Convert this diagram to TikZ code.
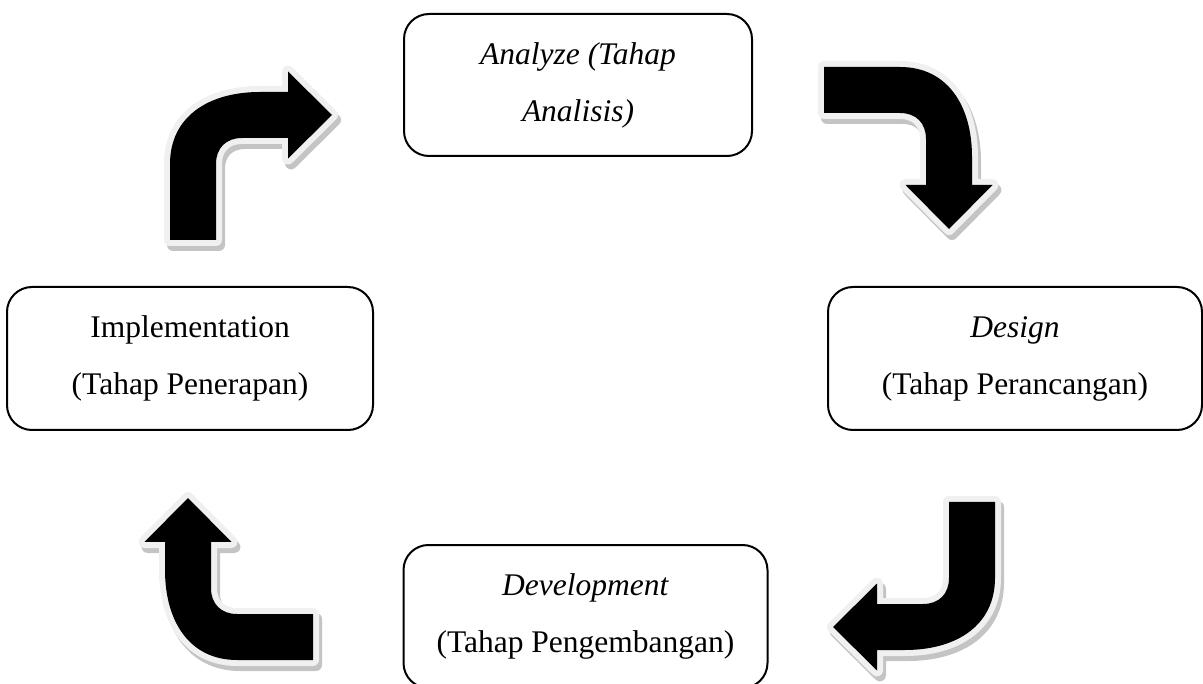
\documentclass[tikz,border=0pt]{standalone}
\usepackage{fontspec}
\setmainfont{Liberation Serif}
\usepackage{tikz}
\usetikzlibrary{shapes, positioning}
\definecolor{rimgray}{HTML}{F0F0F0}
\definecolor{shadegray}{HTML}{C4C4C4}
\tikzstyle{phase} = [rectangle, rounded corners=25pt, draw=black, line width=2pt, align=center, inner sep=0pt, font=\fontsize{31.5}{57}\selectfont]
\tikzstyle{bentshadow} = [fill=shadegray, draw=shadegray, line width=12pt, line join=round]
\tikzstyle{bentrim} = [draw=rimgray, line width=12pt, line join=round]
\tikzstyle{bentbody} = [fill=black]
\newcommand{\bentshape}{(0,148) -- (0,72) .. controls (0,25) and (38,0) .. (90,0) -- (118,0) -- (118,-20.5) -- (162,23) -- (118,66.5) -- (118,46) -- (72,46) .. controls (56,46) and (46,56) .. (46,72) -- (46,148) -- cycle}
\newcommand{\bentarrow}[3]{%
\path[bentshadow, shift={(#1+3,#2+5)}, rotate=#3] \bentshape;
\path[bentrim, shift={(#1,#2)}, rotate=#3] \bentshape;
\path[bentbody, shift={(#1,#2)}, rotate=#3] \bentshape;
}

\begin{document}
\begin{tikzpicture}[x=1pt, y=-1pt]
\useasboundingbox (0,0) rectangle (1203,684);
% the four phases
\node (analyze) [phase, minimum width=348pt, minimum height=142pt] at (578,85) {\textit{Analyze (Tahap}\\\textit{Analisis)}};
\node (design) [phase, minimum width=374pt, minimum height=143pt] at (1015,358.5) {\textit{Design}\\(Tahap Perancangan)};
\node (develop) [phase, minimum width=364pt, minimum height=143pt] at (585.5,616.5) {\textit{Development}\\(Tahap Pengembangan)};
\node (implement) [phase, minimum width=366pt, minimum height=143pt] at (190,358.5) {Implementation\\(Tahap Penerapan)};
% bent arrows between the phases
\bentarrow{170}{92}{0}
\bentarrow{972}{67}{-90}
\bentarrow{995}{650}{180}
\bentarrow{165}{660}{90}
\end{tikzpicture}
\end{document}
